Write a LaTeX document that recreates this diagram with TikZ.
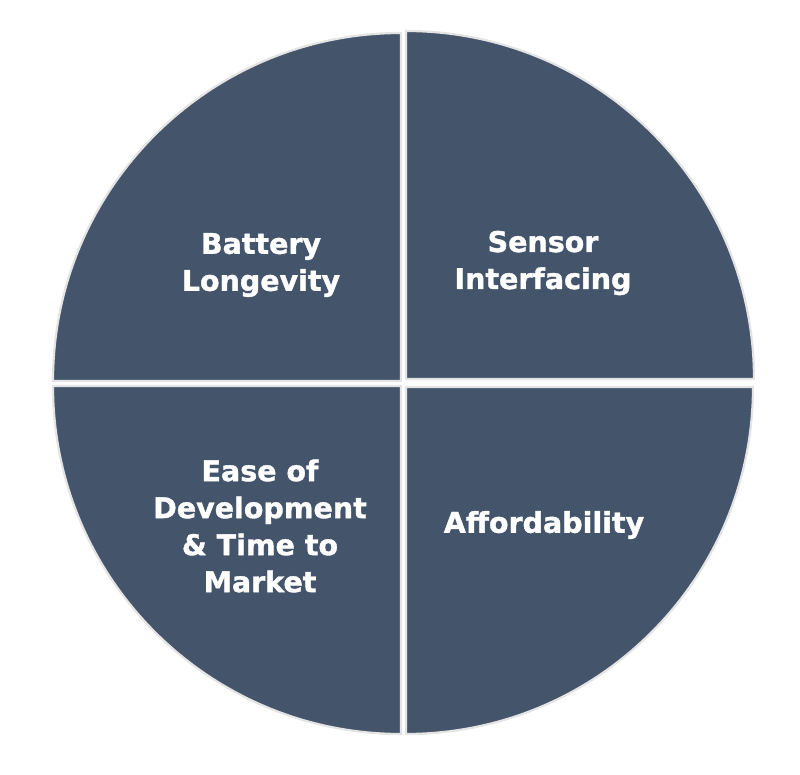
\documentclass[tikz,border=0pt]{standalone}
\usepackage{fontspec}
\setmainfont{DejaVu Sans}
\newfontfamily\heavyfont{DejaVu Sans}[UprightFont=* Bold, UprightFeatures={FakeBold=1.3}]
\definecolor{quadfill}{HTML}{44546A}
\definecolor{quadedge}{HTML}{E4E4E4}
\begin{document}
\begin{tikzpicture}[x=1pt,y=1pt,
  quad/.style={fill=quadfill,draw=quadedge,line width=2.2pt,line join=round},
  lbl/.style={text=white,align=center,font=\heavyfont\fontsize{28.5}{37}\selectfont,inner sep=0pt}]
\useasboundingbox (0,0) rectangle (800,774);
% top-left
\path[quad] (401,393) -- ++(-348,0) arc[start angle=180,end angle=90,radius=348] -- cycle;
% top-right
\path[quad] (406,395) -- ++(0,348) arc[start angle=90,end angle=0,radius=348] -- cycle;
% bottom-left
\path[quad] (401,388) -- ++(0,-348) arc[start angle=270,end angle=180,radius=348] -- cycle;
% bottom-right
\path[quad] (406,387) -- ++(347,0) arc[start angle=0,end angle=-90,radius=347] -- cycle;
\node[lbl] (bl) at (261,509) {Battery\\Longevity};
\node[lbl] (si) at (543,511) {Sensor\\Interfacing};
\node[lbl] (ed) at (260,248) {Ease of\\Development\\\& Time to\\Market};
\node[lbl] (af) at (544,249) {Affordability};
\end{tikzpicture}
\end{document}
